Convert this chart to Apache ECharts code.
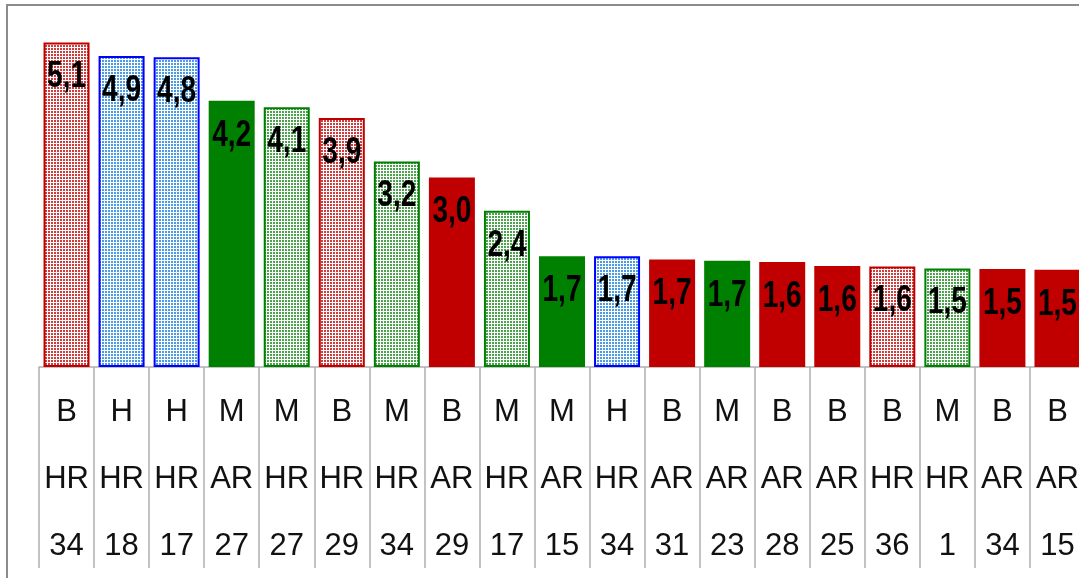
<!DOCTYPE html>
<html>
<head>
<meta charset="utf-8">
<script src="https://cdn.jsdelivr.net/npm/echarts@6/dist/echarts.min.js"></script>
<style>
html,body{margin:0;padding:0;background:#fff;}
#chart{width:1079px;height:578px;}
</style>
</head>
<body>
<div id="chart"></div>
<script>
// ---- data ----
var groups = ['B','H','H','M','M','B','M','B','M','M','H','B','M','B','B','B','M','B','B'];
var types  = ['HR','HR','HR','AR','HR','HR','HR','AR','HR','AR','HR','AR','AR','AR','AR','HR','HR','AR','AR'];
var codes  = ['34','18','17','27','27','29','34','29','17','15','34','31','23','28','25','36','1','34','15'];
var values = [5.07,4.86,4.84,4.16,4.06,3.89,3.21,2.96,2.44,1.73,1.73,1.68,1.66,1.64,1.58,1.57,1.54,1.53,1.52];

// ---- styles ----
var solidColor = {B:'#C00000', H:'#0000FF', M:'#008000'};
var dotColor = {B:'#d03b3b', H:'#4a9ae4', M:'#4da34d'};

function makePattern(col){
  var c = document.createElement('canvas');
  c.width = 3; c.height = 3;
  var g = c.getContext('2d');
  g.fillStyle = '#ffffff'; g.fillRect(0,0,3,3);
  g.fillStyle = col; g.fillRect(0,0,2,2);
  return c;
}
var patterns = {B:makePattern(dotColor.B), H:makePattern(dotColor.H), M:makePattern(dotColor.M)};

var categories = groups.map(function(g,i){ return g + '\n' + types[i] + '\n' + codes[i]; });

var barData = values.map(function(v,i){
  var g = groups[i];
  var st;
  if (types[i] === 'HR') {
    st = {color:{image:patterns[g], repeat:'repeat'}, borderColor:solidColor[g], borderWidth:2};
  } else {
    st = {color:solidColor[g], borderWidth:0};
  }
  return {value:v, itemStyle:st};
});

var labelData = values.map(function(v,i){ return [i, v]; });

function fmt(v){ return v.toFixed(1).replace('.', ','); }

var chart = echarts.init(document.getElementById('chart'), null, {renderer:'canvas'});
chart.setOption({
  animation:false,
  backgroundColor:'#ffffff',
  grid:{left:39, width:1046, top:15, bottom:211, containLabel:false, outerBoundsMode:'none'},
  xAxis:{
    type:'category',
    data:categories,
    axisLine:{show:true, lineStyle:{color:'#b0b0b0', width:1.5}},
    axisTick:{show:true, length:201, lineStyle:{color:'#b0b0b0', width:1.5}},
    axisLabel:{interval:0, margin:12, color:'#111', fontFamily:'Liberation Sans, Arial, sans-serif', fontSize:31, lineHeight:67}
  },
  yAxis:{type:'value', min:0, max:5.5, show:false, splitLine:{show:false}},
  series:[{
    type:'bar',
    data:barData,
    barWidth:46,
    label:{show:false}
  },{
    type:'custom',
    data:labelData,
    encode:{x:0, y:1},
    z:10,
    renderItem:function(params, api){
      var p = api.coord([api.value(0), api.value(1)]);
      return {
        type:'text',
        x:p[0], y:p[1] + 35,
        scaleX:0.78,
        style:{
          text:fmt(api.value(1)),
          fill:'#000',
          fontSize:36, fontWeight:'bold',
          fontFamily:'Liberation Sans, Arial, sans-serif',
          align:'center', verticalAlign:'middle'
        }
      };
    }
  }],
  graphic:[{
    type:'rect', silent:true, z:100,
    shape:{x:7, y:5, width:1200, height:700},
    style:{fill:'none', stroke:'#8c8c8c', lineWidth:2}
  }]
});
</script>
</body>
</html>
